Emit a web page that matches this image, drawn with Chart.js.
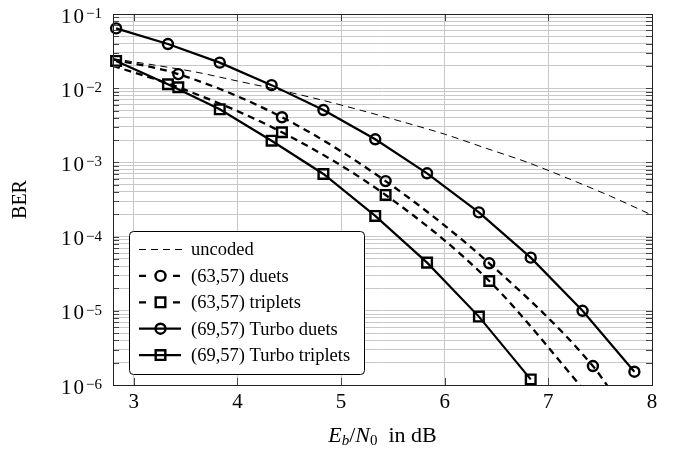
<!DOCTYPE html>
<html>
<head>
<meta charset="utf-8">
<title>BER</title>
<script src="https://cdn.jsdelivr.net/npm/chart.js@4.4.0/dist/chart.umd.min.js"></script>
<style>
  html, body { margin: 0; padding: 0; background: #fff; }
  #wrap { width: 676px; height: 456px; }
</style>
</head>
<body>
<div id="wrap"><canvas id="myChart" width="676" height="456"></canvas></div>
<script>
// verdier lest av bildet (Eb/N0 i dB, BER)
const uncodedX = [2.8, 3.2, 3.6, 4.0, 4.4, 4.8, 5.2, 5.6, 6.0, 6.4, 6.8, 7.2, 7.6, 8.0];
const uncodedBer = [2.5e-2, 2.05e-2, 1.65e-2, 1.25e-2, 9.5e-3, 7.0e-3, 5.0e-3, 3.5e-3, 2.4e-3, 1.55e-3, 1.0e-3, 6.0e-4, 3.5e-4, 1.95e-4];

const duetsX = [2.8, 3.43, 4.43, 5.43, 6.43, 7.43, 7.6];
const duetsBer = [2.45e-2, 1.55e-2, 4.06e-3, 5.6e-4, 4.37e-5, 1.8e-6, 8.5e-7];
const duetsMarks = [0, 1, 1, 1, 1, 1, 0];

const tripletsX = [2.8, 3.43, 4.43, 5.43, 6.43, 7.43];
const tripletsBer = [2.0e-2, 1.03e-2, 2.55e-3, 3.64e-4, 2.52e-5, 6.2e-7];
const tripletsMarks = [0, 1, 1, 1, 1, 0];

const turboDuetsX = [2.83, 3.33, 3.83, 4.33, 4.83, 5.33, 5.83, 6.33, 6.83, 7.33, 7.83];
const turboDuetsBer = [6.4e-2, 3.94e-2, 2.21e-2, 1.10e-2, 5.08e-3, 2.05e-3, 7.13e-4, 2.12e-4, 5.2e-5, 1.0e-5, 1.51e-6];

const turboTripletsX = [2.83, 3.33, 3.83, 4.33, 4.83, 5.33, 5.83, 6.33, 6.83];
const turboTripletsBer = [2.33e-2, 1.13e-2, 5.2e-3, 1.96e-3, 6.98e-4, 1.9e-4, 4.46e-5, 8.35e-6, 1.19e-6];

const seriesNames = ["uncoded", "(63,57) duets", "(63,57) triplets", "(69,57) Turbo duets", "(69,57) Turbo triplets"];

// akser
const xTicks = [3, 4, 5, 6, 7, 8];
const yDecades = [-6, -5, -4, -3, -2, -1];
const yMinor = [2, 3, 4, 5, 6, 7, 8, 9];

const serif = '"Liberation Serif", "Times New Roman", serif';

function points(xs, ys) {
    return xs.map((x, i) => ({ x: x, y: ys[i] }));
}

// alle log-ticks 1..9 i hver dekade
let yTickValues = [];
for (let i = 0; i < yDecades.length - 1; i++) {
    let base = Math.pow(10, yDecades[i]);
    yTickValues.push(base);
    yMinor.forEach(m => yTickValues.push(m * base));
}
yTickValues.push(Math.pow(10, yDecades[yDecades.length - 1]));

const circleR = 5;
const rectR = 6.8;
const markW = 2.4;

const datasets = [
    {
        label: seriesNames[0],
        data: points(uncodedX, uncodedBer),
        borderColor: "#000", borderWidth: 1, borderDash: [7, 5],
        pointRadius: 0, tension: 0.3
    },
    {
        label: seriesNames[1],
        data: points(duetsX, duetsBer),
        borderColor: "#000", borderWidth: 2.3, borderDash: [7, 5],
        pointStyle: "circle", pointRadius: duetsMarks.map(m => m ? circleR : 0),
        pointBorderWidth: markW, pointBorderColor: "#000", pointBackgroundColor: "rgba(0,0,0,0)",
        cubicInterpolationMode: "monotone"
    },
    {
        label: seriesNames[2],
        data: points(tripletsX, tripletsBer),
        borderColor: "#000", borderWidth: 2.3, borderDash: [7, 5],
        pointStyle: "rect", pointRadius: tripletsMarks.map(m => m ? rectR : 0),
        pointBorderWidth: markW, pointBorderColor: "#000", pointBackgroundColor: "rgba(0,0,0,0)",
        cubicInterpolationMode: "monotone"
    },
    {
        label: seriesNames[3],
        data: points(turboDuetsX, turboDuetsBer),
        borderColor: "#000", borderWidth: 2.2,
        pointStyle: "circle", pointRadius: circleR,
        pointBorderWidth: markW, pointBorderColor: "#000", pointBackgroundColor: "rgba(0,0,0,0)"
    },
    {
        label: seriesNames[4],
        data: points(turboTripletsX, turboTripletsBer),
        borderColor: "#000", borderWidth: 2.2,
        pointStyle: "rect", pointRadius: rectR,
        pointBorderWidth: markW, pointBorderColor: "#000", pointBackgroundColor: "rgba(0,0,0,0)"
    }
];
datasets.forEach(d => { d.clip = { left: 10, right: 10, top: 10, bottom: 1 }; });

// tegner ramme, ticks, tekst og legend selv (pgfplots-stil)
const pgfStyle = {
    id: "pgfStyle",
    afterDraw(chart) {
        const ctx = chart.ctx;
        const area = chart.chartArea;
        const xs = chart.scales.x;
        const ys = chart.scales.y;
        ctx.save();

        // små ticks inn i plottet
        ctx.strokeStyle = "#444";
        ctx.lineWidth = 1;
        ctx.beginPath();
        yTickValues.forEach(v => {
            let y = Math.round(ys.getPixelForValue(v)) + 0.5;
            let len = 6;
            ctx.moveTo(area.left, y); ctx.lineTo(area.left + len, y);
            ctx.moveTo(area.right, y); ctx.lineTo(area.right - len, y);
        });
        xTicks.forEach(v => {
            let x = Math.round(xs.getPixelForValue(v)) + 0.5;
            ctx.moveTo(x, area.top); ctx.lineTo(x, area.top + 7);
            ctx.moveTo(x, area.bottom); ctx.lineTo(x, area.bottom - 7);
        });
        ctx.stroke();

        // ramme
        ctx.strokeStyle = "#222";
        ctx.strokeRect(Math.round(area.left) + 0.5, Math.round(area.top) + 0.5,
            Math.round(area.right - area.left), Math.round(area.bottom - area.top));

        ctx.fillStyle = "#000";

        // x tick labels
        ctx.font = "21px " + serif;
        ctx.textAlign = "center";
        ctx.textBaseline = "alphabetic";
        xTicks.forEach(v => {
            ctx.fillText(String(v), xs.getPixelForValue(v), area.bottom + 23);
        });

        // y tick labels 10^k
        yDecades.forEach(k => {
            let y = ys.getPixelForValue(Math.pow(10, k));
            let sup = "\u2212" + Math.abs(k);
            ctx.font = "15px " + serif;
            let supW = ctx.measureText(sup).width;
            let right = area.left - 11;
            ctx.textAlign = "left";
            ctx.fillText(sup, right - supW, y + 4);
            ctx.font = "21px " + serif;
            ctx.textAlign = "right";
            let zeroRight = right - supW - 2;
            ctx.fillText("0", zeroRight, y + 8.5);
            ctx.fillText("1", zeroRight - ctx.measureText("0").width - 2, y + 8.5);
        });

        // y-akse tittel
        ctx.save();
        ctx.translate(20.5, (area.top + area.bottom) / 2);
        ctx.rotate(-Math.PI / 2);
        ctx.font = "20px " + serif;
        ctx.textAlign = "center";
        ctx.textBaseline = "middle";
        ctx.fillText("BER", 0, 0);
        ctx.restore();

        // x-akse tittel: E_b/N_0 in dB
        const parts = [
            { t: "E", f: "italic 22px " + serif, dy: 0 },
            { t: "b", f: "italic 15px " + serif, dy: 3 },
            { t: "/", f: "22px " + serif, dy: 0 },
            { t: "N", f: "italic 22px " + serif, dy: 0 },
            { t: "0", f: "15px " + serif, dy: 3 },
            { t: "  in dB", f: "22px " + serif, dy: 0 }
        ];
        let total = 0;
        parts.forEach(p => { ctx.font = p.f; p.w = ctx.measureText(p.t).width; total += p.w; });
        let px = (area.left + area.right) / 2 - total / 2;
        ctx.textAlign = "left";
        parts.forEach(p => {
            ctx.font = p.f;
            ctx.fillText(p.t, px, 442 + p.dy);
            px += p.w;
        });

        // legend
        let bx = 129.5, by = 231.5, bw = 235, bh = 143, r = 4;
        ctx.beginPath();
        ctx.moveTo(bx + r, by);
        ctx.arcTo(bx + bw, by, bx + bw, by + bh, r);
        ctx.arcTo(bx + bw, by + bh, bx, by + bh, r);
        ctx.arcTo(bx, by + bh, bx, by, r);
        ctx.arcTo(bx, by, bx + bw, by, r);
        ctx.closePath();
        ctx.fillStyle = "#fff";
        ctx.fill();
        ctx.strokeStyle = "#000";
        ctx.lineWidth = 1;
        ctx.stroke();

        chart.data.datasets.forEach((d, i) => {
            let ly = 249.5 + i * 26.4;
            let x0 = 139, x1 = 181, xm = 160.5;
            ctx.strokeStyle = "#000";
            ctx.lineWidth = d.borderWidth;
            ctx.setLineDash(d.borderDash || []);
            ctx.lineDashOffset = 0;
            ctx.beginPath();
            if (i === 0) {
                ctx.moveTo(x0, ly); ctx.lineTo(x1 + 2, ly);
            } else if (d.borderDash) {
                ctx.moveTo(x0, ly); ctx.lineTo(x0 + 8, ly);
                ctx.moveTo(x1 - 8, ly); ctx.lineTo(x1, ly);
            } else {
                ctx.moveTo(x0, ly); ctx.lineTo(x1, ly);
            }
            ctx.stroke();
            ctx.setLineDash([]);
            if (i > 0) {
                ctx.lineWidth = markW;
                ctx.beginPath();
                if (d.pointStyle === "circle") {
                    ctx.arc(xm, ly, circleR, 0, Math.PI * 2);
                } else {
                    let s = rectR * Math.SQRT1_2;
                    ctx.rect(xm - s, ly - s, 2 * s, 2 * s);
                }
                ctx.stroke();
            }
            ctx.fillStyle = "#000";
            ctx.font = "18.5px " + serif;
            ctx.textAlign = "left";
            ctx.textBaseline = "middle";
            ctx.fillText(d.label, 191, ly + 1);
            ctx.textBaseline = "alphabetic";
        });

        ctx.restore();
    }
};

const ctx = document.getElementById("myChart");

new Chart(ctx, {
    type: "line",
    data: { datasets: datasets },
    options: {
        responsive: false,
        animation: false,
        events: [],
        layout: { padding: { left: 0, top: 14, right: 24, bottom: 0 } },
        plugins: { legend: { display: false }, tooltip: { enabled: false } },
        scales: {
            x: {
                type: "linear",
                min: 2.8,
                max: 8,
                afterBuildTicks: scale => { scale.ticks = xTicks.map(v => ({ value: v })); },
                afterFit: scale => { scale.height = 71; },
                ticks: { display: false },
                grid: { color: "#c8c8c8", lineWidth: 1, drawTicks: false },
                border: { display: false }
            },
            y: {
                type: "logarithmic",
                min: 1e-6,
                max: 1e-1,
                afterBuildTicks: scale => { scale.ticks = yTickValues.map(v => ({ value: v })); },
                afterFit: scale => { scale.width = 113; },
                ticks: { display: false },
                grid: { color: "#c8c8c8", lineWidth: 1, drawTicks: false },
                border: { display: false }
            }
        }
    },
    plugins: [pgfStyle]
});
</script>
</body>
</html>
